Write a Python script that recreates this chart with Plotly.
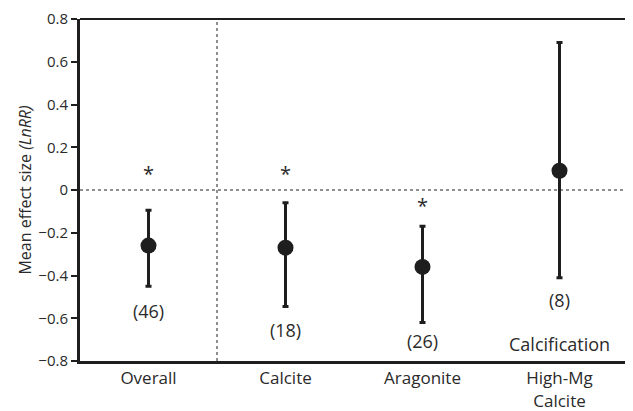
import plotly.graph_objects as go

categories = ["Overall", "Calcite", "Aragonite", "High-Mg<br>Calcite"]
means = [-0.26, -0.27, -0.36, 0.09]
upper = [-0.095, -0.06, -0.17, 0.69]
lower = [-0.45, -0.545, -0.62, -0.41]
n_labels = ["(46)", "(18)", "(26)", "(8)"]
n_label_y = [-0.58, -0.665, -0.72, -0.525]
star_flags = [True, True, True, False]
star_y = [0.065, 0.065, -0.085, None]
yticks = [-0.8, -0.6, -0.4, -0.2, 0, 0.2, 0.4, 0.6, 0.8]
ytick_text = ["\u22120.8", "\u22120.6", "\u22120.4", "\u22120.2", "0", "0.2", "0.4", "0.6", "0.8"]

x = list(range(len(categories)))
err_plus = [u - m for u, m in zip(upper, means)]
err_minus = [m - l for m, l in zip(means, lower)]

font_family = "Open Sans, Lato, sans-serif"
ink = "#1e1e1e"
txt = "#2a2a2a"

fig = go.Figure()
fig.add_trace(go.Scatter(
    x=x, y=means, mode="markers",
    marker=dict(size=16, color=ink),
    error_y=dict(type="data", symmetric=False, array=err_plus, arrayminus=err_minus,
                 color=ink, thickness=3, width=3),
    showlegend=False, hoverinfo="skip",
))

# n labels
fig.add_trace(go.Scatter(
    x=x, y=n_label_y, mode="text", text=n_labels,
    textfont=dict(family=font_family, size=18, color=txt),
    showlegend=False, hoverinfo="skip",
))
# stars
sx = [xi for xi, f in zip(x, star_flags) if f]
sy = [yv for yv, f in zip(star_y, star_flags) if f]
fig.add_trace(go.Scatter(
    x=sx, y=sy, mode="text", text=["*"] * len(sx),
    textfont=dict(family=font_family, size=20, color=txt),
    showlegend=False, hoverinfo="skip",
))

fig.add_annotation(x=3, y=-0.72, text="Calcification", showarrow=False,
                   font=dict(family=font_family, size=18, color=txt))

# reference lines
fig.add_shape(type="line", xref="paper", x0=0, x1=1, yref="y", y0=0, y1=0,
              line=dict(color=ink, width=1, dash="dot"))
fig.add_shape(type="line", xref="x", x0=0.5, x1=0.5, yref="paper", y0=0, y1=1,
              line=dict(color=ink, width=1, dash="dot"))
# top and right frame
fig.add_shape(type="line", xref="paper", x0=0, x1=1, yref="paper", y0=1, y1=1,
              line=dict(color=ink, width=2))
fig.add_shape(type="line", xref="paper", x0=1, x1=1, yref="paper", y0=0, y1=1,
              line=dict(color=ink, width=2))

fig.update_layout(
    width=625, height=403,
    margin=dict(l=72, r=5, t=11, b=50),
    paper_bgcolor="white", plot_bgcolor="white",
    font=dict(family=font_family, color=txt),
    xaxis=dict(range=[-0.5, 3.5], tickvals=x, ticktext=categories, automargin=False,
               showgrid=False, zeroline=False, showline=True, linecolor=ink, linewidth=3,
               ticks="", tickfont=dict(size=17, family=font_family, color=txt)),
    yaxis=dict(range=[-0.8, 0.8], tickvals=yticks, ticktext=ytick_text, automargin=False,
               showgrid=False, zeroline=False, showline=True, linecolor=ink, linewidth=3,
               ticks="outside", ticklen=6, tickwidth=2, tickcolor=ink,
               tickfont=dict(size=15, family=font_family, color=txt),
               title=dict(text="Mean effect size <i>(LnRR)</i>", standoff=3,
                          font=dict(size=16, family=font_family, color=txt))),
)

fig.write_html("out.html")
